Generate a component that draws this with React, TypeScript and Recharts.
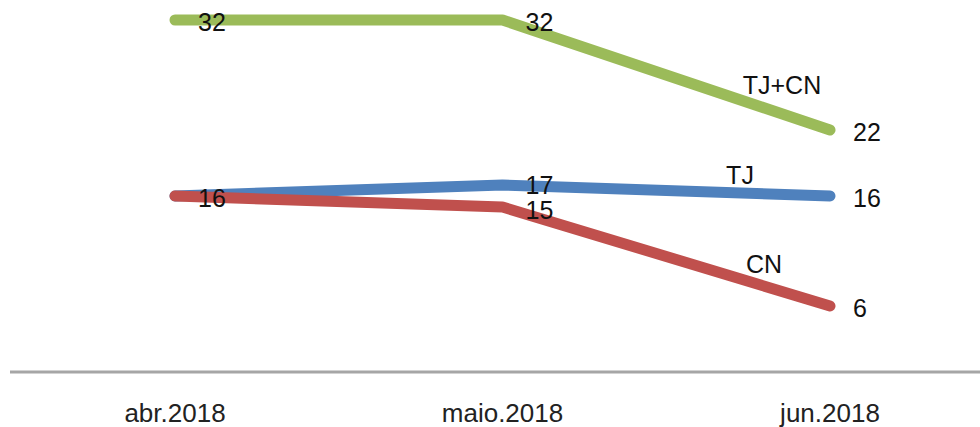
import { LineChart, Line, XAxis, YAxis } from "recharts";

const months = ["abr.2018", "maio.2018", "jun.2018"];
const tjcn = [32, 32, 22];
const tj = [16, 17, 16];
const cn = [16, 15, 6];

const data = months.map((m, i) => ({ month: m, tjcn: tjcn[i], tj: tj[i], cn: cn[i] }));

const FONT = '"Liberation Sans", Arial, sans-serif';

type LabelOpts = { name: string; nameDx: number; nameDy: number; skipFirst?: boolean; midDy?: number };

const makeLabel = (opts: LabelOpts) => (props: any) => {
  const { x, y, value, index } = props;
  if (x == null || y == null) return null;
  const last = index === months.length - 1;
  const dy = index === 1 && opts.midDy != null ? opts.midDy : 2;
  return (
    <g key={`l-${opts.name}-${index}`}>
      {!(opts.skipFirst && index === 0) && (
        <text x={x + 23} y={y + dy} fontSize={25} fontFamily={FONT} fill="#111" dominantBaseline="central">
          {value}
        </text>
      )}
      {last && (
        <text x={x + opts.nameDx} y={y + opts.nameDy} fontSize={25} fontFamily={FONT} fill="#111" textAnchor="middle" dominantBaseline="central">
          {opts.name}
        </text>
      )}
    </g>
  );
};

export default function App() {
  return (
    <div style={{ position: "absolute", left: 0, top: 0, background: "#fff" }}>
      <LineChart width={980} height={427} data={data} margin={{ top: 20, right: 0, left: 10, bottom: 0 }}>
        <XAxis
          dataKey="month"
          padding={{ left: 165, right: 150 }}
          height={55}
          axisLine={{ stroke: "#a6a6a6", strokeWidth: 3 }}
          tickLine={false}
          tickSize={0}
          tickMargin={32}
          interval={0}
          tick={{ fontSize: 26, fill: "#222", fontFamily: FONT }}
        />
        <YAxis hide domain={[0, 32]} />
        <Line dataKey="tjcn" stroke="#9bbb59" strokeWidth={11} strokeLinecap="round" strokeLinejoin="round" dot={false} activeDot={false} isAnimationActive={false} label={makeLabel({ name: "TJ+CN", nameDx: -48, nameDy: -45 })} />
        <Line dataKey="tj" stroke="#4f81bd" strokeWidth={11} strokeLinecap="round" strokeLinejoin="round" dot={false} activeDot={false} isAnimationActive={false} label={makeLabel({ name: "TJ", nameDx: -90, nameDy: -21, midDy: 0 })} />
        <Line dataKey="cn" stroke="#c0504d" strokeWidth={11} strokeLinecap="round" strokeLinejoin="round" dot={false} activeDot={false} isAnimationActive={false} label={makeLabel({ name: "CN", nameDx: -66, nameDy: -42, skipFirst: true, midDy: 3 })} />
      </LineChart>
    </div>
  );
}
